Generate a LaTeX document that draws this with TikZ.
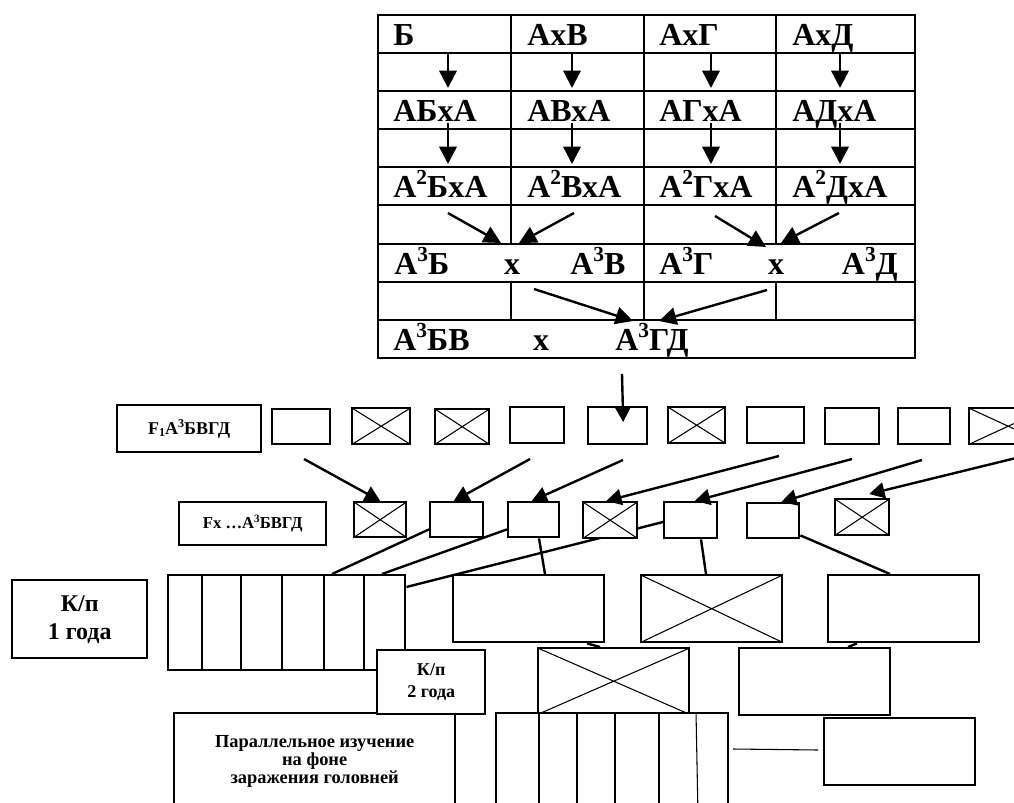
\documentclass[tikz,border=0pt]{standalone}
\usepackage{fontspec}
\setmainfont{Liberation Serif}
\usepackage{graphicx}
\usetikzlibrary{arrows.meta,calc}
\pgfdeclarelayer{background}
\pgfsetlayers{background,main}
\newcommand\upx[1]{\raisebox{0.38em}{\scalebox{0.67}{#1}}}
\newcommand\dnx[1]{\raisebox{-0.14em}{\scalebox{0.67}{#1}}}
\newcommand\bx[7]{\node[#1,minimum width={0.75pt*(#4-#2)},minimum height={0.75pt*(#5-#3)}] (#6) at (#2,#3) {#7};}
\begin{document}
\begin{tikzpicture}[x=0.75pt,y=-0.75pt,
  box/.style={draw,line width=1.8pt,fill=white,inner sep=0pt,anchor=north west,align=center},
  xbox/.style={box,path picture={\draw[line width=0.8pt] (path picture bounding box.north west)--(path picture bounding box.south east) (path picture bounding box.south west)--(path picture bounding box.north east);}},
  grid/.style={line width=1.8pt,line cap=rect},
  conn/.style={line width=1.8pt},
  stripe/.style={line width=0.8pt},
  arr/.style={line width=1.8pt,-{Triangle[length=13pt,width=13pt]}},
  arrs/.style={line width=1.8pt,-{Triangle[length=11.5pt,width=12pt]}},
  tt/.style={inner sep=0pt,anchor=base west,font=\fontsize{24}{28}\selectfont\bfseries},
  ttc/.style={tt,anchor=base},
  lblA/.style={font=\fontsize{13.5}{16}\selectfont\bfseries},
  lblB/.style={font=\fontsize{12.5}{15}\selectfont\bfseries},
  lblK/.style={font=\fontsize{18}{21}\selectfont\bfseries},
  lblK2/.style={font=\fontsize{13.5}{16.5}\selectfont\bfseries},
  lblP/.style={font=\fontsize{13.8}{13.5}\selectfont\bfseries},
]
\useasboundingbox (0,0) rectangle (1014,803);
\clip (0,0) rectangle (1014,803);

% ---------- table ----------
\draw[grid] (378,15) rectangle (915,358);
\foreach \y in {53,91,129,167,205,244,282,320} \draw[grid] (378,\y) -- (915,\y);
\draw[grid] (511,15) -- (511,244) (511,282) -- (511,320);
\draw[grid] (644,15) -- (644,320);
\draw[grid] (776,15) -- (776,244) (776,282) -- (776,320);

\node[tt] (t11) at (393,45) {Б};
\node[tt] (t12) at (527,45) {АхВ};
\node[tt] (t13) at (659,45) {АхГ};
\node[tt] (t14) at (792,45) {АхД};
\node[tt] (t31) at (393,121) {АБхА};
\node[tt] (t32) at (527,121) {АВхА};
\node[tt] (t33) at (659,121) {АГхА};
\node[tt] (t34) at (792,121) {АДхА};
\node[tt] (t51) at (393,197) {А\upx{2}БхА};
\node[tt] (t52) at (527,197) {А\upx{2}ВхА};
\node[tt] (t53) at (659,197) {А\upx{2}ГхА};
\node[tt] (t54) at (792,197) {А\upx{2}ДхА};
\node[tt] (t71) at (394,274) {А\upx{3}Б};
\node[ttc] (t72) at (512,274) {х};
\node[tt] (t73) at (570,274) {А\upx{3}В};
\node[tt] (t74) at (659,274) {А\upx{3}Г};
\node[ttc] (t75) at (776,274) {х};
\node[tt,anchor=base east] (t76) at (898,274) {А\upx{3}Д};
\node[tt] (t91) at (393,350) {А\upx{3}БВ};
\node[ttc] (t92) at (541,350) {х};
\node[tt] (t93) at (615,350) {А\upx{3}ГД};

\foreach \x [count=\i] in {448,572,711,840}{
  \coordinate (p\i a) at (\x,53); \coordinate (p\i b) at (\x,88);
  \coordinate (q\i a) at (\x,123); \coordinate (q\i b) at (\x,164);
  \draw[arr] (p\i a) -- (p\i b);
  \draw[arr] (q\i a) -- (q\i b);
}
\coordinate (d1a) at (448,213); \coordinate (d1b) at (501,243);
\coordinate (d2a) at (574,213); \coordinate (d2b) at (519,243);
\coordinate (d3a) at (715,216); \coordinate (d3b) at (766,247);
\coordinate (d4a) at (839,213); \coordinate (d4b) at (781,243);
\coordinate (e1a) at (534,289); \coordinate (e1b) at (633,321);
\coordinate (e2a) at (767,290); \coordinate (e2b) at (659,321);
\foreach \n in {d1,d2,d3,d4,e1,e2} \draw[arr] (\n a) -- (\n b);

% ---------- row A ----------
\bx{box,lblA}{116}{404}{260}{451}{fa}{F\dnx{1}А\upx{3}БВГД}
\bx{box}{271}{408}{329}{443}{a1}{}
\bx{xbox}{351}{407}{409}{443}{a2}{}
\bx{xbox}{434}{408}{488}{443}{a3}{}
\bx{box}{509}{406}{563}{442}{a4}{}
\bx{box}{587}{406}{646}{443}{a5}{}
\bx{xbox}{667}{406}{724}{442}{a6}{}
\bx{box}{746}{406}{803}{442}{a7}{}
\bx{box}{824}{407}{878}{443}{a8}{}
\bx{box}{897}{407}{949}{443}{a9}{}
\bx{xbox}{968}{407}{1046}{443}{a10}{}

% ---------- row B ----------
\bx{box,lblB}{178}{501}{325}{544}{fb}{Fx …А\upx{3}БВГД}
\bx{xbox}{353}{501}{405}{536}{b1}{}
\bx{box}{429}{501}{482}{536}{b2}{}
\bx{box}{507}{501}{558}{536}{b3}{}
\bx{xbox}{582}{501}{636}{537}{b4}{}
\bx{box}{663}{501}{716}{537}{b5}{}
\bx{box}{746}{502}{798}{537}{b6}{}
\bx{xbox}{834}{498}{888}{534}{b7}{}

% ---------- row C ----------
\bx{box,lblK}{11}{579}{146}{657}{k1}{К/п\\1 года}
\bx{box}{167}{574}{404}{669}{s1}{}
\foreach \x in {202,241,282,324,364} \draw[stripe] (\x,574) -- (\x,669);
\bx{box}{452}{574}{603}{641}{c2}{}
\bx{xbox}{640}{574}{781}{641}{c3}{}
\bx{box}{827}{574}{978}{641}{c4}{}

% ---------- row D / E ----------
\bx{xbox}{537}{647}{688}{713}{d2}{}
\bx{box}{738}{647}{889}{714}{d3}{}
\bx{box,lblP}{173}{712}{454}{808}{par}{Параллельное изучение\\на фоне\\заражения головней}
\bx{box,lblK2}{376}{649}{484}{713}{k2}{К/п\\2 года}
\bx{box}{495}{712}{727}{815}{s2}{}
\foreach \x/\xx in {539/539,577/577,615/615,659/659,696/698} \draw[stripe] (\x,712) -- (\xx,815);
\bx{box}{823}{717}{974}{784}{e3}{}

% ---------- connectors (behind boxes) ----------
\begin{pgfonlayer}{background}
\draw[conn] ($(b2.south west)+(0,-9)$) -- ($(s1.north west)+(165,0)$);
\draw[conn] ($(b3.south west)+(0,-9)$) -- ($(s1.north west)+(215,0)$);
\draw[conn] ($(b5.north west)+(0,21)$) -- ($(s1.north east)+(0,13)$);
\draw[conn] ($(b3.south west)+(32,0)$) -- ($(c2.north west)+(93,0)$);
\draw[conn] ($(b5.south west)+(38,0)$) -- ($(c3.north west)+(66,0)$);
\draw[conn] ($(b6.south east)+(0,-4)$) -- ($(c4.north west)+(63,0)$);
\draw[conn] ($(c2.south west)+(135,0)$) -- ($(d2.north west)+(63,0)$);
\draw[conn] ($(c4.south west)+(30,0)$) -- ($(d3.north west)+(110,0)$);
\end{pgfonlayer}
\coordinate (m1) at (733,749); \coordinate (m2) at (818,750);
\draw[stripe] (m1) -- (m2);

% ---------- arrows ----------
\coordinate (fa0) at (622,374);
\draw[arrs] (fa0) -- ($(a5.north)+(5.5,16)$);
\coordinate (g1) at (304,459);
\coordinate (g2) at (530,459);
\coordinate (g3) at (623,460);
\coordinate (g4) at (779,456);
\coordinate (g5) at (852,459);
\coordinate (g6) at (922,460);
\coordinate (g7) at (1016,458);
\draw[arrs] (g1) -- (b1.north);
\draw[arrs] (g2) -- ($(b2.north)+(-3,0)$);
\draw[arrs] (g3) -- ($(b3.north)+(-2,0)$);
\draw[arrs] (g4) -- ($(b4.north)+(-4,0)$);
\draw[arrs] (g5) -- ($(b5.north)+(4,0)$);
\draw[arrs] (g6) -- ($(b6.north)+(8,0)$);
\draw[arrs] (g7) -- ($(b7.north)+(7,-4)$);
\end{tikzpicture}
\end{document}
